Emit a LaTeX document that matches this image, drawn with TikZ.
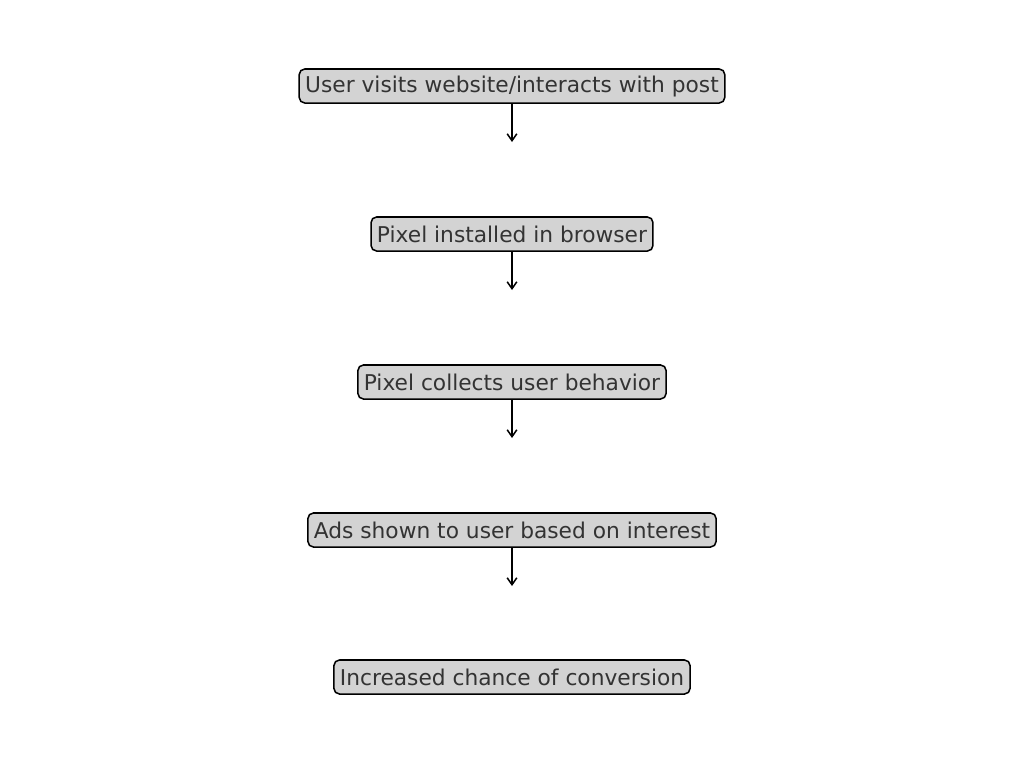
\documentclass[tikz,border=0pt]{standalone}
\usepackage{fontspec}
\setmainfont{DejaVu Sans}
\usetikzlibrary{arrows.meta}
\definecolor{boxfill}{HTML}{D3D3D3}
\definecolor{boxtext}{HTML}{333333}
\tikzset{
  stepbox/.style={draw=black, line width=1.1pt, fill=boxfill, text=boxtext,
    rounded corners=4pt, inner xsep=4.3pt, inner ysep=0pt, minimum height=0.34in,
    font=\fontsize{15.7}{18}\selectfont},
  flow/.style={line width=1.1pt, -{Straight Barb[length=5pt,width=7pt]}}
}
\begin{document}
\begin{tikzpicture}[x=0.01in,y=-0.01in]
\useasboundingbox (0,0) rectangle (1024,765);
\node[stepbox] (visit) at (512,86) {User visits website/interacts with post};
\node[stepbox] (pixel) at (512,234) {Pixel installed in browser};
\node[stepbox] (collect) at (512,382) {Pixel collects user behavior};
\node[stepbox] (ads) at (512,530) {Ads shown to user based on interest};
\node[stepbox] (conv) at (512,677) {Increased chance of conversion};
\coordinate (e1) at (512,142);
\coordinate (e2) at (512,290);
\coordinate (e3) at (512,438);
\coordinate (e4) at (512,586);
\draw[flow] (visit.south) -- (e1);
\draw[flow] (pixel.south) -- (e2);
\draw[flow] (collect.south) -- (e3);
\draw[flow] (ads.south) -- (e4);
\end{tikzpicture}
\end{document}
